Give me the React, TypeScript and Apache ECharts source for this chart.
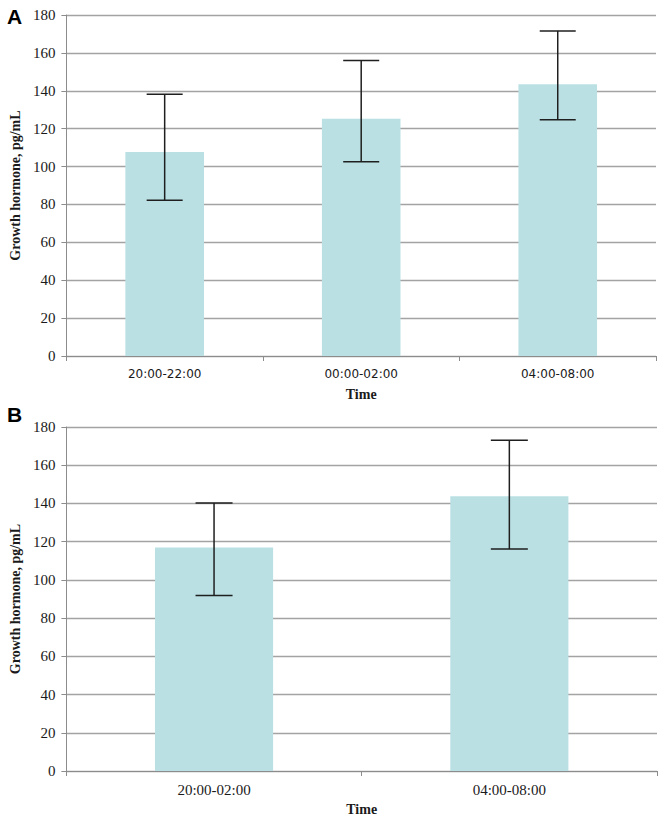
import React, { useEffect, useRef } from "react";
import * as echarts from "echarts";

const categoriesA = ["20:00-22:00", "00:00-02:00", "04:00-08:00"];
const meansA = [107.7, 125.3, 143.5];
const lowerA = [82.2, 102.5, 124.7];
const upperA = [138.2, 156.0, 171.6];

const categoriesB = ["20:00-02:00", "04:00-08:00"];
const meansB = [116.9, 143.7];
const lowerB = [91.8, 116.1];
const upperB = [140.2, 173.1];

const yTicks = [0, 20, 40, 60, 80, 100, 120, 140, 160, 180];

const BAR_COLOR = "#BAE0E4";
const GRID_COLOR = "#A3A3A3";
const AXIS_COLOR = "#8C8C8C";
const TEXT_COLOR = "#1a1a1a";
const SERIF = "'Liberation Serif', 'Times New Roman', serif";

function errorRender(capHalf: number) {
  return (params: any, api: any) => {
    const x = api.value(0);
    const lo = api.coord([x, api.value(1)]);
    const hi = api.coord([x, api.value(2)]);
    const style = { stroke: "#1f1f1f", lineWidth: 1.5 };
    return {
      type: "group",
      children: [
        { type: "line", shape: { x1: hi[0], y1: hi[1], x2: lo[0], y2: lo[1] }, style },
        { type: "line", shape: { x1: hi[0] - capHalf, y1: hi[1], x2: hi[0] + capHalf, y2: hi[1] }, style },
        { type: "line", shape: { x1: lo[0] - capHalf, y1: lo[1], x2: lo[0] + capHalf, y2: lo[1] }, style },
      ],
    };
  };
}

function yAxisCfg(gridIndex: number) {
  return {
    type: "value",
    gridIndex,
    min: yTicks[0],
    max: yTicks[yTicks.length - 1],
    interval: 20,
    name: "Growth hormone, pg/mL",
    nameLocation: "middle",
    nameGap: 43,
    nameTextStyle: { fontFamily: SERIF, fontWeight: "bold", fontSize: 14, color: TEXT_COLOR },
    axisLine: { show: true, lineStyle: { color: AXIS_COLOR, width: 1 } },
    axisTick: { show: true, length: 5, lineStyle: { color: AXIS_COLOR } },
    axisLabel: { fontFamily: SERIF, fontSize: 15, color: TEXT_COLOR, margin: 11 },
    splitLine: { show: true, lineStyle: { color: GRID_COLOR, width: 1.3 } },
  };
}

function xAxisCfg(gridIndex: number, data: string[], sans: boolean) {
  return {
    type: "category",
    gridIndex,
    data,
    name: "Time",
    nameLocation: "middle",
    nameGap: 31,
    nameTextStyle: { fontFamily: SERIF, fontWeight: "bold", fontSize: 14, color: TEXT_COLOR },
    axisLine: { show: true, lineStyle: { color: AXIS_COLOR, width: 1 } },
    axisTick: { show: true, length: 5, alignWithLabel: false, lineStyle: { color: AXIS_COLOR } },
    axisLabel: sans
      ? { fontFamily: "'DejaVu Sans', Verdana, sans-serif", fontSize: 12, color: TEXT_COLOR, margin: 12 }
      : { fontFamily: SERIF, fontSize: 15, color: TEXT_COLOR, margin: 11 },
    splitLine: { show: false },
  };
}

export default function App() {
  const ref = useRef<HTMLDivElement>(null);
  useEffect(() => {
    if (!ref.current) return;
    const chart = echarts.init(ref.current, undefined, { renderer: "svg" });
    chart.setOption({
      animation: false,
      backgroundColor: "#ffffff",
      grid: [
        { left: 66, top: 15, width: 590, height: 341 },
        { left: 66, top: 427, width: 591, height: 344 },
      ],
      xAxis: [xAxisCfg(0, categoriesA, true), xAxisCfg(1, categoriesB, false)],
      yAxis: [yAxisCfg(0), yAxisCfg(1)],
      graphic: [
        { type: "text", left: 7, top: 6, style: { text: "A", fontFamily: "'Liberation Sans', Arial, sans-serif", fontWeight: "bold", fontSize: 21, fill: "#000" } },
        { type: "text", left: 7, top: 404, style: { text: "B", fontFamily: "'Liberation Sans', Arial, sans-serif", fontWeight: "bold", fontSize: 21, fill: "#000" } },
      ],
      series: [
        {
          type: "bar",
          xAxisIndex: 0,
          yAxisIndex: 0,
          data: meansA,
          barWidth: "40%",
          itemStyle: { color: BAR_COLOR },
        },
        {
          type: "custom",
          xAxisIndex: 0,
          yAxisIndex: 0,
          renderItem: errorRender(18),
          encode: { x: 0, y: [1, 2] },
          data: categoriesA.map((_, i) => [i, lowerA[i], upperA[i]]),
          z: 5,
        },
        {
          type: "bar",
          xAxisIndex: 1,
          yAxisIndex: 1,
          data: meansB,
          barWidth: "40%",
          itemStyle: { color: BAR_COLOR },
        },
        {
          type: "custom",
          xAxisIndex: 1,
          yAxisIndex: 1,
          renderItem: errorRender(18.5),
          encode: { x: 0, y: [1, 2] },
          data: categoriesB.map((_, i) => [i, lowerB[i], upperB[i]]),
          z: 5,
        },
      ],
    });
    return () => chart.dispose();
  }, []);
  return (
    <div
      ref={ref}
      style={{ position: "absolute", left: 0, top: 0, width: 664, height: 822, background: "#fff" }}
    />
  );
}
